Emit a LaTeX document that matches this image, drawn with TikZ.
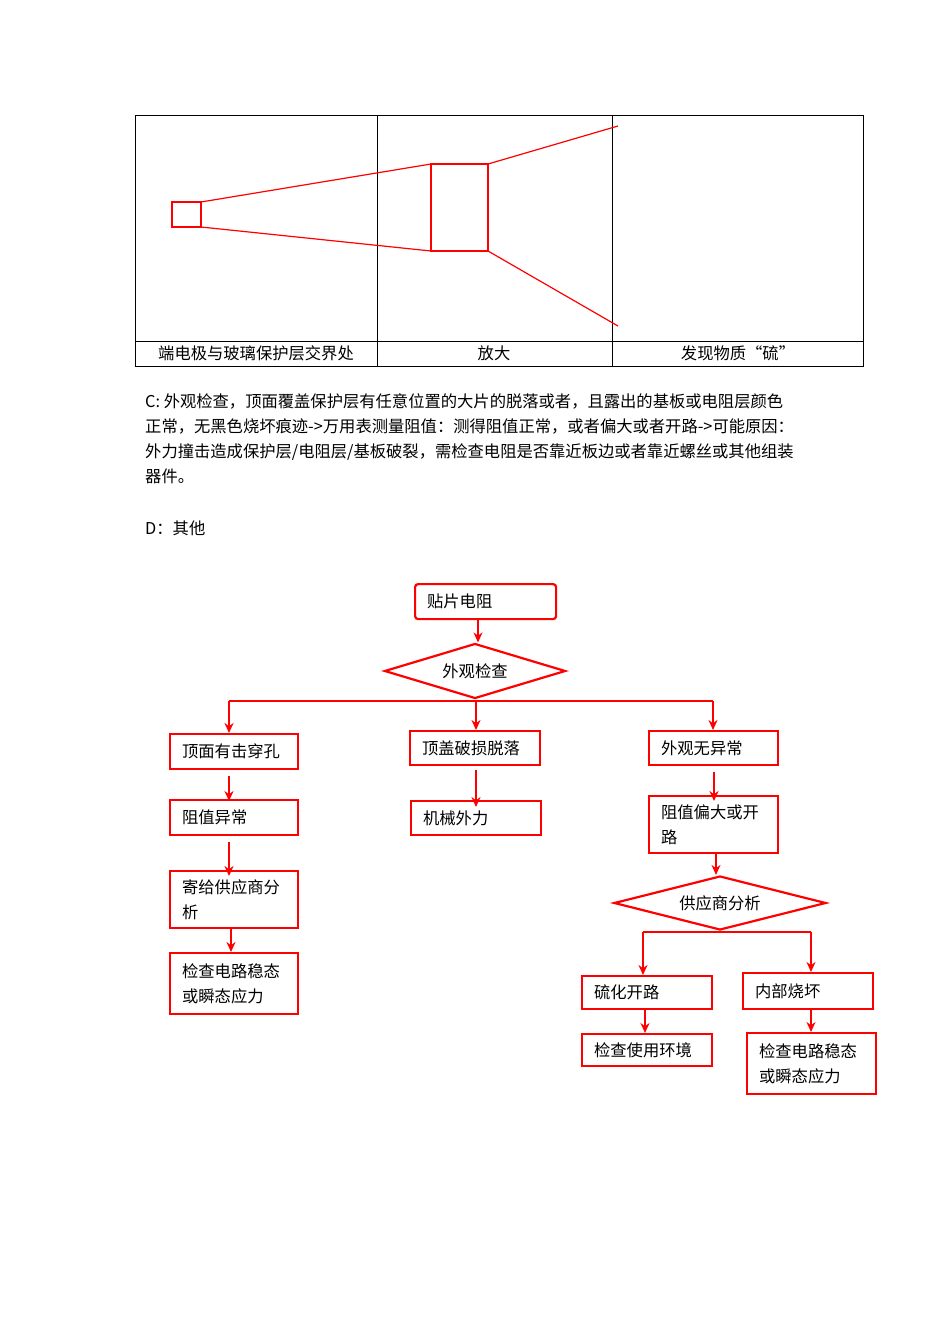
\documentclass[tikz,border=0pt]{standalone}
\usepackage{fontspec}
\setmainfont{Noto Sans CJK SC}
\usetikzlibrary{arrows.meta,shapes.geometric}
\begin{document}
\begin{tikzpicture}[x=1pt,y=-1pt,
  every node/.style={font=\fontsize{16.3}{25}\selectfont},
  box/.style={draw=red,line width=2.2pt,anchor=north west,align=left,inner xsep=12pt,inner ysep=0pt},
  dia/.style={draw=red,line width=2.2pt,diamond,aspect=3.3,inner sep=1pt},
  arr/.style={draw=red,line width=2.2pt,-{Stealth[length=10pt,width=9pt]}},
  ln/.style={draw=red,line width=1.2pt},
  tbl/.style={draw=black,line width=0.8pt}]
\useasboundingbox (0,0) rectangle (950,1344);
% table
\draw[tbl] (135,115) rectangle (863,366);
\draw[tbl] (135,341) -- (863,341);
\draw[tbl] (377,115) -- (377,366);
\draw[tbl] (612,115) -- (612,366);
\node (l1) at (256,353) {端电极与玻璃保护层交界处};
\node (l2) at (494,353) {放大};
\node (l3) at (738,353) {发现物质“硫”};
\draw[ln,line width=2.2pt] (172,202) rectangle (201,227);
\draw[ln,line width=2.2pt] (431,164) rectangle (488,251);
\draw[ln] (201,202) -- (431,164);
\draw[ln] (201,227) -- (431,251);
\draw[ln] (488,164) -- (618,126);
\draw[ln] (488,251) -- (618,326);
% paragraph
\node[anchor=north west,align=left,inner sep=0pt] (para) at (145,393) {C:\ 外观检查，顶面覆盖保护层有任意位置的大片的脱落或者，且露出的基板或电阻层颜色\\正常，无黑色烧坏痕迹->万用表测量阻值：测得阻值正常，或者偏大或者开路->可能原因：\\外力撞击造成保护层/电阻层/基板破裂，需检查电阻是否靠近板边或者靠近螺丝或其他组装\\器件。};
\node[anchor=west,inner sep=0pt] (d) at (145,528) {D：其他};
% flowchart
\node[box,rounded corners=3pt,minimum width=141pt,minimum height=35pt,text width=117pt] (a) at (414,583) {贴片电阻};
\node[dia,minimum width=181pt,minimum height=55pt] (b) at (475,671) {外观检查};
\node[box,minimum width=128pt,minimum height=35pt,text width=104pt] (c1) at (169,733) {顶面有击穿孔};
\node[box,minimum width=128pt,minimum height=35pt,text width=104pt] (c2) at (169,799) {阻值异常};
\node[box,minimum width=128pt,minimum height=57pt,text width=104pt] (c3) at (169,870) {寄给供应商分\\析};
\node[box,minimum width=128pt,minimum height=61pt,text width=104pt] (c4) at (169,952) {检查电路稳态\\或瞬态应力};
\node[box,minimum width=130pt,minimum height=34pt,text width=106pt] (m1) at (409,730) {顶盖破损脱落};
\node[box,minimum width=130pt,minimum height=34pt,text width=106pt] (m2) at (410,800) {机械外力};
\node[box,minimum width=129pt,minimum height=34pt,text width=105pt] (r1) at (648,730) {外观无异常};
\node[box,minimum width=129pt,minimum height=57pt,text width=105pt] (r2) at (648,795) {阻值偏大或开\\路};
\node[dia,minimum width=212pt,minimum height=54pt] (r3) at (720,903) {供应商分析};
\node[box,minimum width=130pt,minimum height=33pt,text width=106pt] (s1) at (581,975) {硫化开路};
\node[box,minimum width=130pt,minimum height=32pt,text width=106pt] (s2) at (581,1033) {检查使用环境};
\node[box,minimum width=130pt,minimum height=36pt,text width=106pt] (t1) at (742,972) {内部烧坏};
\node[box,minimum width=129pt,minimum height=61pt,text width=105pt] (t2) at (746,1032) {检查电路稳态\\或瞬态应力};
% connectors
\draw[arr] (a.south -| 478,0) -- (b.north -| 478,0);
\coordinate (j) at (476,701);
\draw[ln,line width=2.2pt] (229,701) -- (713,701);
\draw[arr] (229,701) -- (c1.north -| 229,0);
\draw[arr] (j) -- (m1.north -| 476,0);
\draw[arr] (713,701) -- (r1.north -| 713,0);
\draw[arr,shorten <=6pt] (c1.south -| 229,0) -- ([yshift=-2pt]c2.north -| 229,0);
\draw[arr,shorten <=6pt] (c2.south -| 229,0) -- ([yshift=-6pt]c3.north -| 229,0);
\draw[arr] (c3.south -| 231,0) -- (c4.north -| 231,0);
\draw[arr,shorten <=4pt] (m1.south -| 476,0) -- ([yshift=-7pt]m2.north -| 476,0);
\draw[arr,shorten <=6pt] (r1.south -| 714,0) -- ([yshift=-6pt]r2.north -| 714,0);
\draw[arr] (r2.south -| 716,0) -- (r3.north -| 716,0);
\draw[ln,line width=2.2pt] (643,932) -- (811,932);
\draw[arr] (643,932) -- (s1.north -| 643,0);
\draw[arr] (811,932) -- (t1.north -| 811,0);
\draw[arr] (s1.south -| 645,0) -- (s2.north -| 645,0);
\draw[arr] (t1.south -| 811,0) -- (t2.north -| 811,0);
\end{tikzpicture}
\end{document}
